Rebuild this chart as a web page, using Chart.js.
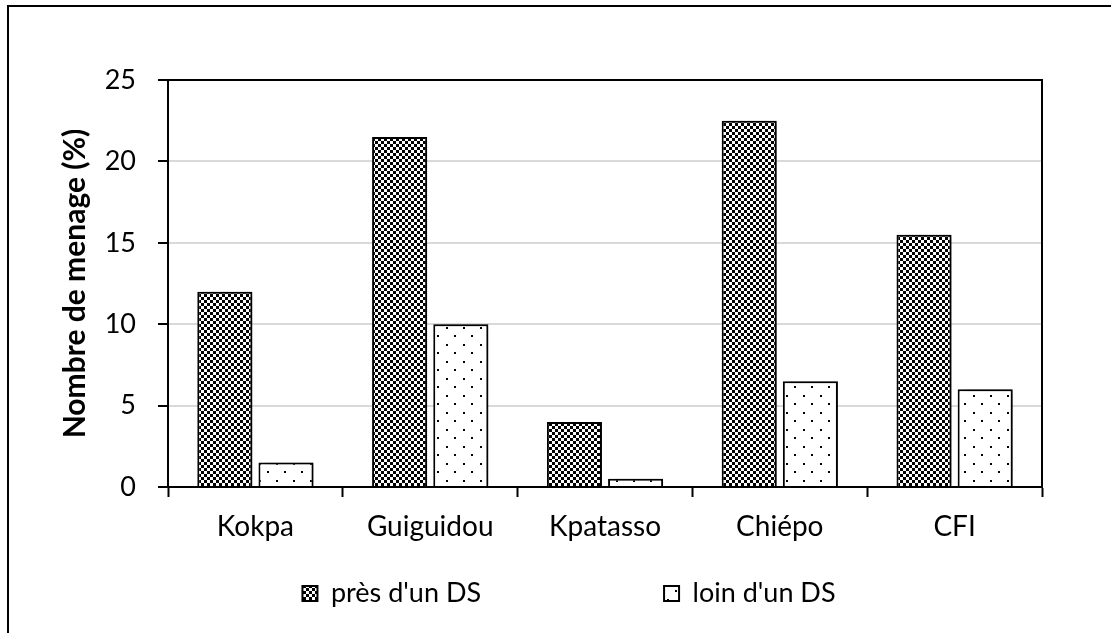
<!DOCTYPE html>
<html>
<head>
<meta charset="utf-8">
<script src="https://cdn.jsdelivr.net/npm/chart.js@4/dist/chart.umd.min.js"></script>
<style>
  html, body { margin: 0; padding: 0; background: #fff; overflow: hidden; }
  #wrap { position: relative; width: 1111px; height: 633px; }
  #frame { position: absolute; left: 7px; top: 5px; width: 2000px; height: 2000px;
           border-top: 2px solid #000; border-left: 2px solid #000; pointer-events: none; }
  canvas { position: absolute; left: 0; top: 0; }
</style>
</head>
<body>
<div id="wrap">
  <canvas id="chart" width="1111" height="633"></canvas>
  <div id="frame"></div>
</div>
<script>
// Household share by site, near vs far from a DS
const categories = ['Kokpa', 'Guiguidou', 'Kpatasso', 'Chiépo', 'CFI'];
const seriesNames = ["près d'un DS", "loin d'un DS"];
const presValues = [12, 21.5, 4, 22.5, 15.5];
const loinValues = [1.5, 10, 0.5, 6.5, 6];
const yTicks = [0, 5, 10, 15, 20, 25];

const FONT = 'Lato, "Open Sans", sans-serif';

// Black/white checkerboard fill
function checkerPattern() {
  const c = document.createElement('canvas');
  c.width = 6; c.height = 6;
  const g = c.getContext('2d');
  g.fillStyle = '#fff'; g.fillRect(0, 0, 6, 6);
  g.fillStyle = '#000';
  g.fillRect(0, 0, 3, 3);
  g.fillRect(3, 3, 3, 3);
  return g.createPattern(c, 'repeat');
}

// Sparse staggered dot fill
function dotPattern() {
  const c = document.createElement('canvas');
  c.width = 17; c.height = 17;
  const g = c.getContext('2d');
  g.fillStyle = '#fff'; g.fillRect(0, 0, 17, 17);
  g.fillStyle = '#000';
  g.fillRect(4, 4, 2, 2);
  g.fillRect(12, 12, 2, 2);
  return g.createPattern(c, 'repeat');
}

// Soft drop shadow to the right of the bars
const barShadow = {
  id: 'barShadow',
  beforeDatasetsDraw(chart) {
    const ctx = chart.ctx;
    ctx.save();
    ctx.shadowColor = 'rgba(0,0,0,0.4)';
    ctx.shadowBlur = 6;
    ctx.shadowOffsetX = 6;
    ctx.shadowOffsetY = 0;
  },
  afterDatasetsDraw(chart) {
    chart.ctx.restore();
  }
};

// Top and right edges of the plot box
const plotBox = {
  id: 'plotBox',
  afterDraw(chart) {
    const { ctx, chartArea: a } = chart;
    ctx.save();
    ctx.strokeStyle = '#000';
    ctx.lineWidth = 2;
    ctx.beginPath();
    ctx.moveTo(a.left, a.top);
    ctx.lineTo(a.right, a.top);
    ctx.lineTo(a.right, a.bottom);
    ctx.stroke();
    ctx.restore();
  }
};

// Place the legend row under the axis labels, centred on the outer frame
const LEGEND_GAP = 183;
const legendPlace = {
  id: 'legendPlace',
  afterLayout(chart) {
    const lg = chart.legend;
    if (!lg) return;
    lg.top = 580 - LEGEND_GAP;
    lg.left = 27;
    lg.right = 1111;
  }
};

const ctx = document.getElementById('chart').getContext('2d');
new Chart(ctx, {
  type: 'bar',
  data: {
    labels: categories,
    datasets: [
      {
        label: seriesNames[0],
        data: presValues,
        backgroundColor: checkerPattern(),
        borderColor: '#000',
        borderWidth: 2,
        barPercentage: 0.9,
        categoryPercentage: 0.7
      },
      {
        label: seriesNames[1],
        data: loinValues,
        backgroundColor: dotPattern(),
        borderColor: '#000',
        borderWidth: 2,
        barPercentage: 0.9,
        categoryPercentage: 0.7
      }
    ]
  },
  options: {
    responsive: false,
    animation: false,
    layout: { padding: { left: 0, right: 69, top: 80, bottom: 10 } },
    plugins: {
      tooltip: { enabled: false },
      legend: {
        position: 'bottom',
        maxHeight: 50,
        labels: {
          font: { family: FONT, size: 27 },
          color: '#000',
          boxWidth: 15,
          boxHeight: 15,
          padding: LEGEND_GAP
        }
      }
    },
    scales: {
      x: {
        afterFit(s) { s.height = 86; },
        grid: {
          display: true,
          drawOnChartArea: false,
          offset: true,
          tickLength: 10,
          tickColor: '#000',
          tickWidth: 2
        },
        border: { display: true, color: '#000', width: 2 },
        ticks: {
          color: '#000',
          padding: 13,
          font: { family: FONT, size: 28 }
        }
      },
      y: {
        min: 0,
        max: 25,
        afterFit(s) { s.width = 168; },
        afterBuildTicks(s) { s.ticks = yTicks.map(v => ({ value: v })); },
        grid: {
          color: (c) => (c.tick && c.tick.value > 0 && c.tick.value < 25) ? '#d9d9d9' : 'rgba(0,0,0,0)',
          lineWidth: 2,
          tickLength: 10,
          tickColor: '#000',
          tickWidth: 2
        },
        border: { display: true, color: '#000', width: 2 },
        ticks: {
          color: '#000',
          padding: 22,
          font: { family: FONT, size: 27 }
        },
        title: {
          display: true,
          text: 'Nombre de menage (%)',
          color: '#000',
          padding: { top: 57, bottom: 0 },
          font: { family: FONT, size: 30, weight: 'bold' }
        }
      }
    }
  },
  plugins: [barShadow, plotBox, legendPlace]
});
</script>
</body>
</html>
